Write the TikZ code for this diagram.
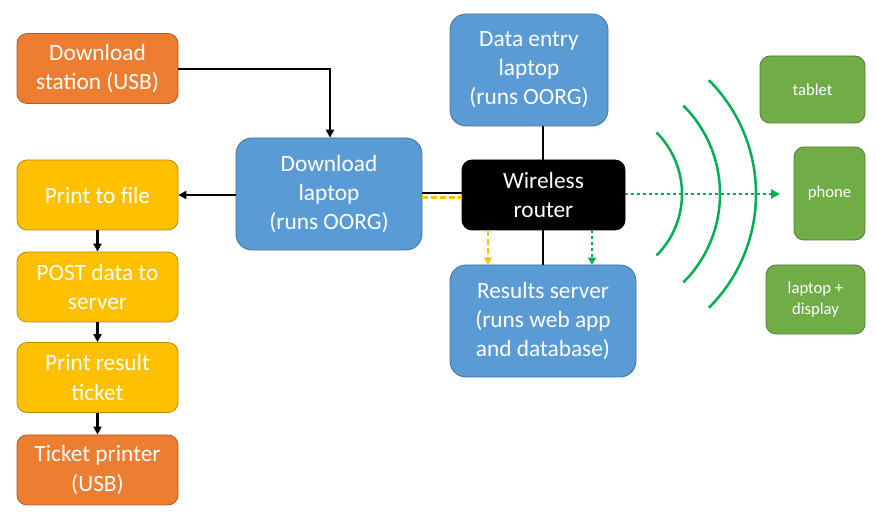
\documentclass[tikz,border=0pt]{standalone}
\usepackage{fontspec}
\setmainfont{Carlito}
\usetikzlibrary{arrows.meta,calc}
\newlength\px \setlength\px{0.75pt}
\definecolor{oran}{HTML}{ED7D31}\definecolor{oranB}{HTML}{AE5A21}
\definecolor{yel}{HTML}{FFC000}\definecolor{yelB}{HTML}{BC8C00}
\definecolor{blu}{HTML}{5B9BD5}\definecolor{bluB}{HTML}{41719C}
\definecolor{grn}{HTML}{70AD47}\definecolor{grnB}{HTML}{507E32}
\definecolor{wgreen}{HTML}{00B050}
\tikzset{
 box/.style={rounded corners=10\px, text=white, align=center, inner sep=0pt, line width=0.8\px,
   font=\fontsize{17.5}{21.8}\selectfont},
 obox/.style={box, fill=oran, draw=oranB, minimum width=161\px, minimum height=70\px},
 ybox/.style={box, fill=yel, draw=yelB, minimum width=161\px, minimum height=70\px},
 bbox/.style={box, fill=blu, draw=bluB, rounded corners=16\px},
 gbox/.style={box, fill=grn, draw=grnB, font=\fontsize{12.5}{15.5}\selectfont},
 conn/.style={line width=2.5\px, -{Triangle[length=6pt,width=6pt]}},
 plain/.style={line width=2.5\px},
}
\begin{document}
\begin{tikzpicture}[x=0.75pt,y=-0.75pt]
\useasboundingbox (0,0) rectangle (876,516);
\fill[white] (0,0) rectangle (876,516);
% left column
\node[obox] (ds) at (97.5,68.5) {Download\\station (USB)};
\node[ybox] (pf) at (97.5,195) {Print to file};
\node[ybox] (post) at (97.5,287) {POST data to\\server};
\node[ybox] (prt) at (97.5,377.5) {Print result\\ticket};
\node[obox] (tp) at (97.5,470) {Ticket printer\\(USB)};
% blue
\node[bbox, minimum width=186\px, minimum height=112\px] (dl) at (329,194) {Download\\laptop\\(runs OORG)};
\node[bbox, minimum width=158\px, minimum height=112\px] (de) at (529,70) {Data entry\\laptop\\(runs OORG)};
\node[bbox, minimum width=186\px, minimum height=112\px] (rs) at (543,321) {Results server\\(runs web app\\and database)};
\node[box, fill=black, draw=black, minimum width=163\px, minimum height=70\px] (wr) at (543.5,195) {Wireless\\router};
% green devices
\node[gbox, minimum width=105\px, minimum height=67\px] (tab) at (812.5,89.5) {tablet};
\node[gbox, minimum width=71\px, minimum height=93\px] (ph) at (829.5,193.5) {phone};
\node[gbox, minimum width=99\px, minimum height=69\px] (lap) at (815.5,299.5) {laptop +\\display};
% connectors
\draw[conn] (ds.east |- 0,69) -| (dl.north -| 330,0);
\draw[conn] (dl.west |- 0,195) -- (pf.east |- 0,195);
\draw[conn] (pf) -- (post);
\draw[conn] (post) -- (prt);
\draw[conn] (prt) -- (tp);
\draw[plain] (dl.east |- 0,193) -- (wr.west |- 0,193);
\draw[yel, line width=2.5\px, dash pattern=on 6\px off 3\px] (dl.east |- 0,197.5) -- (wr.west |- 0,197.5);
\draw[plain] (de.south -| 543,0) -- (wr.north -| 543,0);
\draw[plain] (wr.south -| 543,0) -- (rs.north -| 543,0);
\draw[yel, line width=2.5\px, dash pattern=on 6\px off 3\px, -{Triangle[length=5.25pt,width=6pt]}] (wr.south -| 488,0) -- (rs.north -| 488,0);
\draw[wgreen, line width=2.5\px, dash pattern=on 3\px off 3\px, -{Triangle[length=5.25pt,width=6pt]}] (wr.south -| 592,0) -- (rs.north -| 592,0);
\coordinate (wend) at (780,194);
\draw[wgreen, line width=2.5\px, dash pattern=on 3\px off 3\px, -{Triangle[length=6.75pt,width=6.75pt]}] (wr.east |- 0,194) -- (wend);
% waves
\coordinate (wc) at (595,194);
\foreach \r in {87,125,161}{
  \draw[wgreen, line width=2.5\px] ($(wc)+(-45:\r)$) arc[start angle=-45, end angle=45, radius=\r];
}
\end{tikzpicture}
\end{document}
